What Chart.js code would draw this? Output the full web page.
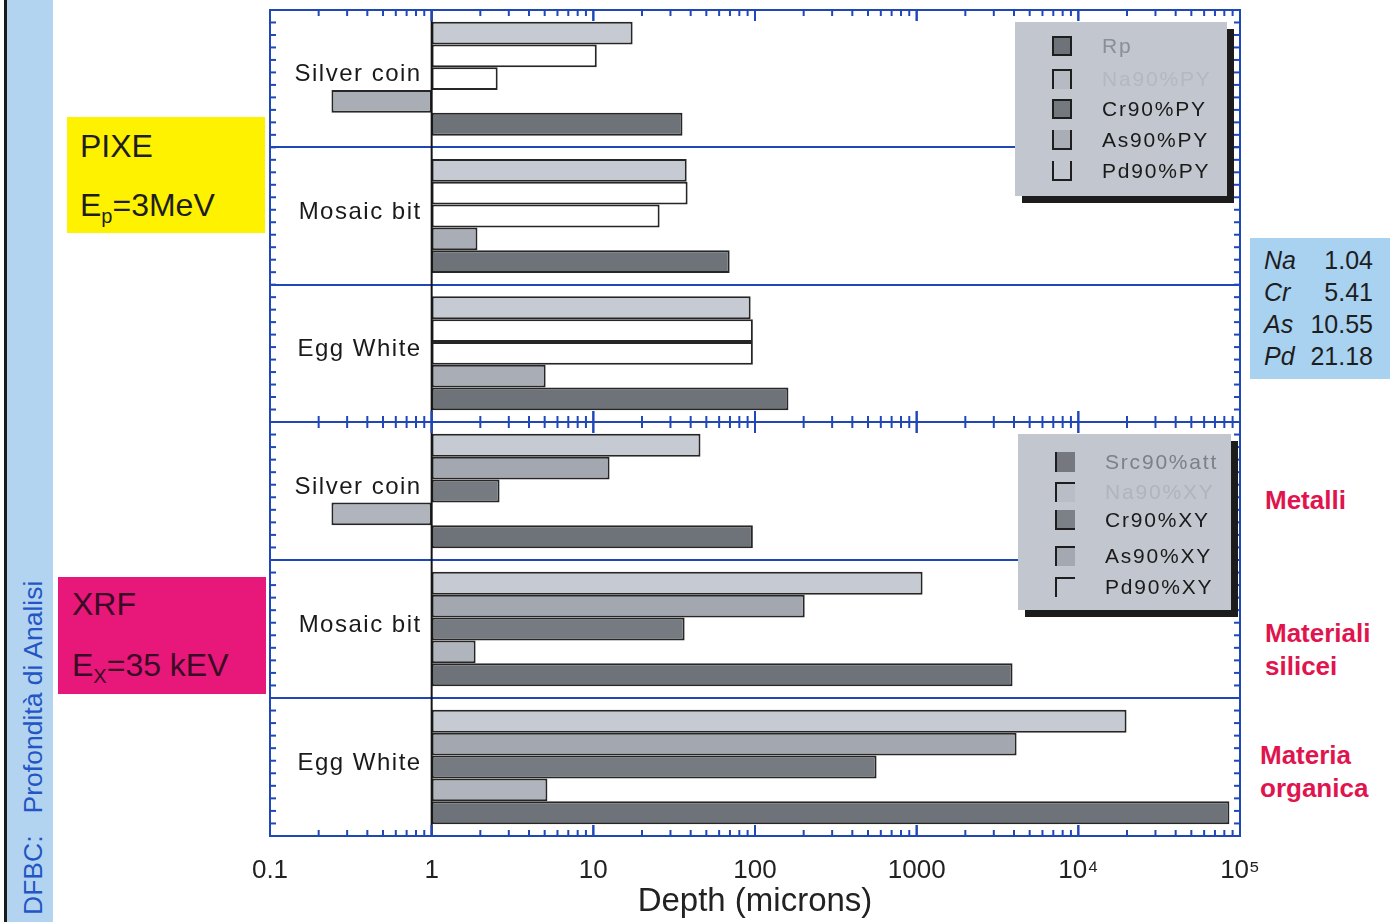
<!DOCTYPE html>
<html>
<head>
<meta charset="utf-8">
<script src="https://cdn.jsdelivr.net/npm/chart.js@4.4.1/dist/chart.umd.min.js"></script>
<style>
  body { margin: 0; background: #fff; font-family: "Liberation Sans", Arial, sans-serif; }
  #page { position: relative; width: 1390px; height: 922px; overflow: hidden; background: #fff; }
  .abs { position: absolute; }
  .legend { background: #c2c6ce; box-shadow: 7px 7px 0 #1c1c1c; }
  .legend .row { position: absolute; left: 0; height: 30px; display: flex; align-items: center; }
  .legend .sw { width: 20px; height: 20px; box-sizing: border-box; border: 0 solid #1e1e1e; }
  .legend .txt { font-size: 21px; letter-spacing: 1.8px; margin-left: 30px; }
  .side { color: #e0144e; font-weight: bold; font-size: 26px; line-height: 33px; }
</style>
</head>
<body>
<div id="page">
  <div class="abs" style="left:4px;top:0;width:3px;height:922px;background:#1b1b1b;"></div>
  <div class="abs" style="left:7px;top:0;width:46px;height:922px;background:#b3d4f0;"></div>
  <div class="abs" style="left:19px;top:915px;transform:rotate(-90deg);transform-origin:0 0;white-space:nowrap;color:#2356c4;font-size:26.5px;line-height:28px;">DFBC:&nbsp;&nbsp;&nbsp;Profondità di Analisi</div>

  <div class="abs" style="left:67px;top:117px;width:198px;height:116px;background:#fff200;color:#1e1e1e;font-size:32px;">
    <div class="abs" style="left:13px;top:11px;">PIXE</div>
    <div class="abs" style="left:13px;top:70px;">E<sub style="font-size:20px;">p</sub>=3MeV</div>
  </div>
  <div class="abs" style="left:58px;top:577px;width:208px;height:117px;background:#e8177a;color:#3a0b24;font-size:32px;">
    <div class="abs" style="left:14px;top:9px;">XRF</div>
    <div class="abs" style="left:14px;top:70px;">E<sub style="font-size:20px;">X</sub>=35 kEV</div>
  </div>

  <div class="abs" id="attBox" style="left:1250px;top:238px;width:140px;height:141px;background:#a9d1f0;color:#1e1e1e;font-size:25px;"></div>

  <div class="abs side" style="left:1265px;top:484px;">Metalli</div>
  <div class="abs side" style="left:1265px;top:617px;">Materiali<br>silicei</div>
  <div class="abs side" style="left:1260px;top:739px;">Materia<br>organica</div>

  <div class="abs" style="left:250px;top:0;width:1010px;height:432px;"><canvas id="pixe"></canvas></div>
  <div class="abs" style="left:250px;top:412px;width:1030px;height:510px;"><canvas id="xrf"></canvas></div>

  <div class="abs legend" id="legPixe" style="left:1015px;top:22px;width:212px;height:174px;"></div>
  <div class="abs legend" id="legXrf" style="left:1018px;top:434px;width:213px;height:176px;"></div>
</div>

<script>
const categories = ['Silver coin', 'Mosaic bit', 'Egg White'];

// PIXE panel (datasets listed top to bottom inside each group)
const pixeNames = ['Pd90%PY', 'As90%PY', 'Cr90%PY', 'Na90%PY', 'Rp'];
const pixePd = [17.5, 37.8, 94];
const pixeAs = [10.5, 38.3, 97];
const pixeCr = [2.56, 25.7, 97];
const pixeNa = [0.24, 1.92, 5.07];
const pixeRp = [35.6, 69.7, 161];
const pixeColors = ['#c6cad3', '#ffffff', '#ffffff', '#a9adb6', '#6e7279'];

// XRF panel
const xrfNames = ['Pd90%XY', 'As90%XY', 'Cr90%XY', 'Na90%XY', 'Src90%att'];
const xrfPd = [46, 1088, 19870];
const xrfAs = [12.6, 203, 4150];
const xrfCr = [2.63, 36.7, 565];
const xrfNa = [0.24, 1.87, 5.2];
const xrfSrc = [97, 3918, 86000];
const xrfColors = ['#c6cad3', '#a3a7b0', '#767a81', '#b0b4bc', '#6e7279'];

const tickValues = [0.1, 1, 10, 100, 1000, 1e4, 1e5];
const tickLabels = ['0.1', '1', '10', '100', '1000', '10⁴', '10⁵'];

const elements = ['Na', 'Cr', 'As', 'Pd'];
const elementValues = ['1.04', '5.41', '10.55', '21.18'];

const blue = '#1f47b8';

// attenuation box
document.getElementById('attBox').innerHTML = elements.map((el, i) => `
  <div style="position:absolute;left:14px;top:8px;transform:translateY(${i * 32}px);font-style:italic;">${el}</div>
  <div style="position:absolute;right:17px;top:8px;transform:translateY(${i * 32}px);">${elementValues[i]}</div>
`).join('');

// legends (Origin style swatches)
function renderLegend(id, items) {
  const el = document.getElementById(id);
  el.innerHTML = items.map((it, i) => `
    <div class="row" style="top:${it.top}px;left:${it.left}px;">
      <span class="sw" style="background:${it.fill};${it.border}"></span>
      <span class="txt" style="color:${it.color};">${it.label}</span>
    </div>`).join('');
}
renderLegend('legPixe', [
  { label: 'Rp', top: 9, left: 37, fill: '#6e7279', border: 'border-width:2px;', color: '#8a8e96' },
  { label: 'Na90%PY', top: 42, left: 37, fill: '#b6bac2', border: 'border-width:2px 2px 0 2px;', color: '#b4b8c0' },
  { label: 'Cr90%PY', top: 72, left: 37, fill: '#74787f', border: 'border-width:2px;', color: '#1a1a1a' },
  { label: 'As90%PY', top: 103, left: 37, fill: '#a9adb6', border: 'border-width:0 2px 2px 2px;', color: '#1a1a1a' },
  { label: 'Pd90%PY', top: 134, left: 37, fill: 'transparent', border: 'border-width:0 2px 2px 2px;', color: '#1a1a1a' }
]);
renderLegend('legXrf', [
  { label: 'Src90%att', top: 13, left: 37, fill: '#75797f', border: 'border-width:0 0 0 2px;', color: '#7c8088' },
  { label: 'Na90%XY', top: 43, left: 37, fill: '#b9bdc5', border: 'border-width:2px 0 0 2px;', color: '#b0b4bc' },
  { label: 'Cr90%XY', top: 71, left: 37, fill: '#7c8087', border: 'border-width:0 0 2px 2px;', color: '#1a1a1a' },
  { label: 'As90%XY', top: 107, left: 37, fill: '#a4a8b0', border: 'border-width:2px 0 0 2px;', color: '#1a1a1a' },
  { label: 'Pd90%XY', top: 138, left: 37, fill: 'transparent', border: 'border-width:2px 0 0 2px;', color: '#1a1a1a' }
]);

// frame, inward log ticks, x=1 base line and category labels
const panelPlugin = {
  id: 'panel',
  afterDatasetsDraw(chart) {
    const { ctx, chartArea: a, scales: { x, y } } = chart;
    const line = (x0, y0, x1, y1) => { ctx.beginPath(); ctx.moveTo(x0, y0); ctx.lineTo(x1, y1); ctx.stroke(); };
    ctx.save();
    const xb = x.getPixelForValue(1);
    ctx.strokeStyle = '#151515';
    ctx.lineWidth = 2;
    line(xb, a.top, xb, a.bottom);

    ctx.strokeStyle = blue;
    ctx.lineWidth = 2;
    ctx.strokeRect(a.left, a.top, a.right - a.left, a.bottom - a.top);
    for (let e = -1; e <= 4; e++) {
      for (let m = 1; m <= 10; m++) {
        const px = x.getPixelForValue(m * Math.pow(10, e));
        const len = (m === 1 || m === 10) ? 11 : 6;
        line(px, a.top, px, a.top + len);
        line(px, a.bottom, px, a.bottom - len);
      }
    }
    const n = 33;
    for (let k = 1; k < n; k++) {
      const py = a.top + k * (a.bottom - a.top) / n;
      line(a.left, py, a.left + 6, py);
      line(a.right, py, a.right - 6, py);
    }

    ctx.fillStyle = '#1a1a1a';
    ctx.font = '24px "Liberation Sans", Arial, sans-serif';
    ctx.letterSpacing = '1.5px';
    ctx.textAlign = 'right';
    ctx.textBaseline = 'middle';
    categories.forEach((c, i) => ctx.fillText(c, xb - 10, y.getPixelForValue(i) - 4));
    ctx.restore();
  }
};

function makeDatasets(names, series, colors) {
  return names.map((name, i) => ({
    label: name,
    data: series[i],
    base: 1,
    backgroundColor: colors[i],
    borderColor: '#262626',
    borderWidth: 2,
    borderSkipped: false,
    categoryPercentage: 0.83,
    barPercentage: 1.0
  }));
}

function renderPanel(canvasId, datasets, showAxis, padding) {
  new Chart(document.getElementById(canvasId), {
    type: 'bar',
    plugins: [panelPlugin],
    data: { labels: categories, datasets: datasets },
    options: {
      indexAxis: 'y',
      responsive: true,
      maintainAspectRatio: false,
      animation: false,
      layout: { padding: padding },
      plugins: { legend: { display: false }, tooltip: { enabled: false } },
      scales: {
        x: {
          type: 'logarithmic',
          min: 0.1,
          max: 1e5,
          display: showAxis,
          grid: { display: false, drawTicks: false },
          border: { display: false },
          afterBuildTicks: (s) => { s.ticks = tickValues.map(v => ({ value: v })); },
          afterFit: (s) => {
            if (!showAxis) return;
            s.paddingLeft = 0;
            s.paddingRight = 0;
            s.height = 86;
          },
          ticks: {
            autoSkip: false,
            maxRotation: 0,
            padding: 19,
            color: '#222',
            font: { family: '"Liberation Sans", Arial, sans-serif', size: 26 },
            callback: (v) => tickLabels[tickValues.indexOf(v)]
          },
          title: {
            display: true,
            text: 'Depth (microns)',
            color: '#222',
            font: { family: '"Liberation Sans", Arial, sans-serif', size: 33 },
            padding: { top: 4, bottom: 0 }
          }
        },
        y: {
          ticks: { display: false },
          grid: { color: blue, lineWidth: 2, offset: true, drawTicks: false },
          border: { display: false },
          afterFit: (s) => { s.width = 0; }
        }
      }
    }
  });
}

renderPanel('pixe', makeDatasets(pixeNames, [pixePd, pixeAs, pixeCr, pixeNa, pixeRp], pixeColors),
  false, { left: 20, right: 20, top: 10, bottom: 10 });
renderPanel('xrf', makeDatasets(xrfNames, [xrfPd, xrfAs, xrfCr, xrfNa, xrfSrc], xrfColors),
  true, { left: 20, right: 40, top: 10, bottom: 0 });
</script>
</body>
</html>
